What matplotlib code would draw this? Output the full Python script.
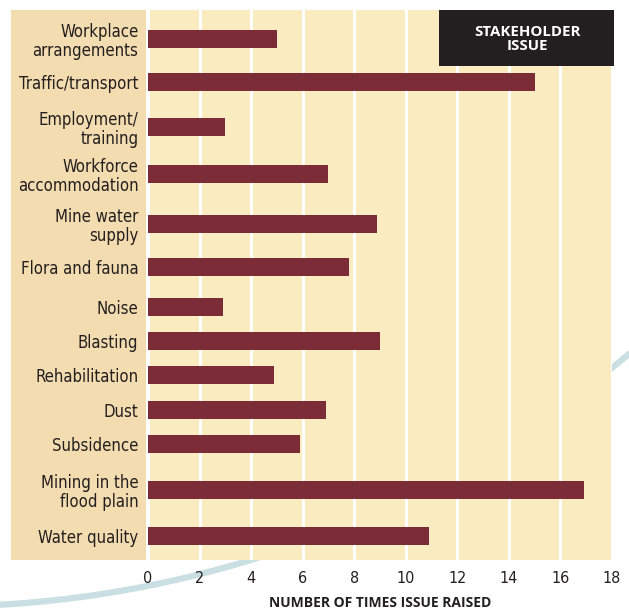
import numpy as np
import matplotlib
matplotlib.use('Agg')
import matplotlib.pyplot as plt
from matplotlib.patches import Rectangle

# stakeholder issues and how many times each was raised
issues = ['Workplace\narrangements', 'Traffic/transport', 'Employment/\ntraining',
          'Workforce\naccommodation', 'Mine water\nsupply', 'Flora and fauna',
          'Noise', 'Blasting', 'Rehabilitation', 'Dust', 'Subsidence',
          'Mining in the\nflood plain', 'Water quality']
times_raised = [5, 15, 3, 7, 8.9, 7.8, 2.9, 9, 4.9, 6.9, 5.9, 16.9, 10.9]
xticks = [0, 2, 4, 6, 8, 10, 12, 14, 16, 18]

# row centres (layout, pixels from the top of the figure)
row_y = [39, 82, 127, 174, 224, 267, 307, 341, 375, 410, 444, 490, 536]

W, H = 629, 610
panel_col = '#F3DDB0'
plot_col = '#FAEBC0'
bar_col = '#7B2C36'
ink = '#231F20'
narrow = dict(family='DejaVu Sans', fontstretch='condensed')

fig = plt.figure(figsize=(W / 100, H / 100), dpi=100)

# background layer in pixel coordinates: label panel and the blue arc
bg = fig.add_axes([0, 0, 1, 1], zorder=0)
bg.set_xlim(0, W)
bg.set_ylim(H, 0)
bg.axis('off')
bg.add_patch(Rectangle((11, 10), 135, 550, facecolor=panel_col, edgecolor='none'))
cx, cy, r = -61, -462, 1068.5
t = np.linspace(0.6, 1.6, 300)
bg.plot(cx + r * np.cos(t), cy + r * np.sin(t), color='#C9DFE3', lw=4.5,
        solid_capstyle='butt', zorder=-1)

# main bar chart, y axis set up in pixel units so rows line up
ax = fig.add_axes([148 / W, 1 - 560 / H, (612 - 148) / W, 550 / H], zorder=1)
ax.set_facecolor(plot_col)
ax.barh(row_y, times_raised, height=18, color=bar_col, zorder=3)
ax.set_xlim(0, 18)
ax.set_ylim(560, 10)

ax.set_xticks(xticks)
ax.set_xticklabels([str(v) for v in xticks], fontsize=11.5, color=ink, **narrow)
ax.set_yticks(row_y)
ax.set_yticklabels(issues, fontsize=12, color=ink, ha='right', linespacing=1.05,
                   **narrow)
ax.tick_params(axis='both', length=0)
ax.tick_params(axis='x', pad=8)
ax.tick_params(axis='y', pad=7)
ax.grid(axis='x', color='white', lw=2.2, zorder=1)
ax.set_axisbelow(True)
for s in ax.spines.values():
    s.set_visible(False)

ax.set_xlabel('NUMBER OF TIMES ISSUE RAISED', family=['Open Sans', 'DejaVu Sans'],
              fontweight='bold', fontsize=10, color=ink, labelpad=7)

# black title box top right
bg2 = fig.add_axes([0, 0, 1, 1], zorder=2)
bg2.set_xlim(0, W)
bg2.set_ylim(H, 0)
bg2.axis('off')
bg2.add_patch(Rectangle((439, 10), 175, 56, facecolor=ink, edgecolor='none'))
bg2.text(527, 39, 'STAKEHOLDER\nISSUE', color='white', ha='center', va='center',
         family=['Open Sans', 'DejaVu Sans'], fontweight='bold', fontsize=10.8,
         linespacing=0.95)

plt.savefig('out.png', dpi=100)
